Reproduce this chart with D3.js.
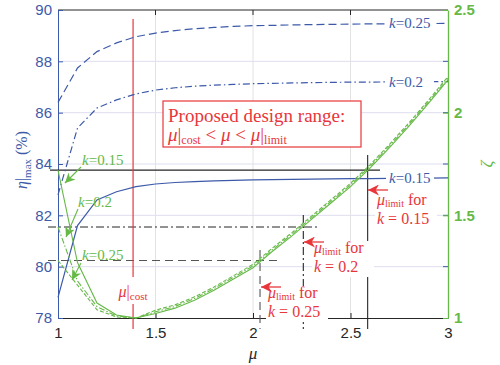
<!DOCTYPE html>
<html>
<head>
<meta charset="utf-8">
<script src="https://cdn.jsdelivr.net/npm/d3@7"></script>
<style>
  body { margin: 0; background: #fff; }
</style>
</head>
<body>
<svg id="chart" width="500" height="365"></svg>
<script>
// mu grid shared by the curves
const mu = [1, 1.1, 1.2, 1.3, 1.4, 1.5, 1.6, 1.7, 1.8, 1.9, 2, 2.1, 2.2, 2.3, 2.4, 2.5, 2.6, 2.7, 2.8, 2.9, 3];

// eta|max (%) curves, left axis
const etaK015 = [78.8, 81.6, 82.6, 82.92, 83.12, 83.22, 83.28, 83.31, 83.34, 83.36, 83.38, 83.39, 83.4, 83.41, 83.42, 83.43, 83.43, 83.44, 83.45, 83.45, 83.46];
const etaK020 = [82.8, 85.4, 86.18, 86.5, 86.73, 86.88, 86.97, 87.03, 87.07, 87.1, 87.13, 87.14, 87.16, 87.17, 87.18, 87.19, 87.19, 87.2, 87.2, 87.21, 87.21];
const etaK025 = [86.4, 87.74, 88.38, 88.72, 88.96, 89.1, 89.2, 89.27, 89.32, 89.36, 89.39, 89.4, 89.42, 89.43, 89.44, 89.45, 89.46, 89.46, 89.47, 89.47, 89.48];

// zeta curves, right axis
const zetaK015 = [1.72, 1.27, 1.073, 1.015, 1.0, 1.022, 1.048, 1.087, 1.135, 1.19, 1.245, 1.325, 1.4, 1.48, 1.56, 1.64, 1.73, 1.83, 1.935, 2.045, 2.16];
const zetaK020 = [1.443, 1.18, 1.055, 1.01, 1.0, 1.03, 1.056, 1.095, 1.143, 1.198, 1.253, 1.333, 1.408, 1.488, 1.568, 1.648, 1.738, 1.838, 1.943, 2.053, 2.168];
const zetaK025 = [1.28, 1.16, 1.04, 1.005, 1.0, 1.038, 1.064, 1.103, 1.151, 1.206, 1.261, 1.341, 1.416, 1.496, 1.576, 1.656, 1.746, 1.846, 1.951, 2.061, 2.176];

// design limits
const kLabels = ["0.15", "0.2", "0.25"];
const muLimit = [2.588, 2.258, 2.036];
const zetaLimit = [1.72, 1.443, 1.28];
const muCost = 1.385;

// ticks
const xTicks = [1, 1.5, 2, 2.5, 3];
const leftTicks = [78, 80, 82, 84, 86, 88, 90];
const rightTicks = [1, 1.5, 2, 2.5];

const blue = "#3d5aa9", green = "#66b947", red = "#e8363b";
const serif = "Liberation Serif";
const sans = "Liberation Sans";

const svg = d3.select("#chart");
const pl = 58, pr = 448, pt = 10, pb = 318;

const x = d3.scaleLinear().domain([1, 3]).range([pl, pr]);
const yL = d3.scaleLinear().domain([78, 90]).range([pb, pt]);
const yR = d3.scaleLinear().domain([1, 2.5]).range([pb, pt]);

// grid
svg.append("g").selectAll("line")
  .data(leftTicks.slice(1, -1)).enter().append("line")
  .attr("x1", pl).attr("x2", pr)
  .attr("y1", d => yL(d)).attr("y2", d => yL(d))
  .attr("stroke", "#dedef0").attr("stroke-width", 1);
svg.append("g").selectAll("line")
  .data(xTicks.slice(1, -1)).enter().append("line")
  .attr("x1", d => x(d)).attr("x2", d => x(d))
  .attr("y1", pt).attr("y2", pb)
  .attr("stroke", "#e2e2e2").attr("stroke-width", 1);

// top border with ticks
svg.append("line").attr("x1", pl).attr("x2", pr).attr("y1", pt).attr("y2", pt)
  .attr("stroke", "#262626");
svg.append("g").selectAll("line").data(xTicks.slice(1, -1)).enter().append("line")
  .attr("x1", d => x(d)).attr("x2", d => x(d)).attr("y1", pt).attr("y2", pt + 5)
  .attr("stroke", "#262626");

// x axis
const xAxis = svg.append("g")
  .attr("transform", `translate(0,${pb})`)
  .call(d3.axisBottom(x).tickValues(xTicks).tickFormat(d3.format("")).tickSize(-5).tickSizeOuter(0).tickPadding(9));
xAxis.attr("font-family", sans);
xAxis.select(".domain").attr("stroke", "#262626");
xAxis.selectAll(".tick line").attr("stroke", "#262626");
xAxis.selectAll(".tick text").attr("font-size", 15).attr("fill", "#262626");

// left axis
const lAxis = svg.append("g")
  .attr("transform", `translate(${pl},0)`)
  .call(d3.axisLeft(yL).tickValues(leftTicks).tickSize(-5).tickSizeOuter(0).tickPadding(6));
lAxis.attr("font-family", sans);
lAxis.select(".domain").attr("stroke", blue);
lAxis.selectAll(".tick line").attr("stroke", blue);
lAxis.selectAll(".tick text").attr("font-size", 15).attr("fill", blue);

// right axis
svg.append("g").selectAll("line").data(leftTicks.slice(1, -1)).enter().append("line")
  .attr("x1", pr - 5).attr("x2", pr).attr("y1", d => yL(d)).attr("y2", d => yL(d))
  .attr("stroke", blue);
const rAxis = svg.append("g")
  .attr("transform", `translate(${pr},0)`)
  .call(d3.axisRight(yR).tickValues(rightTicks).tickFormat(d3.format("")).tickSize(-5).tickSizeOuter(0).tickPadding(6));
rAxis.attr("font-family", sans);
rAxis.select(".domain").attr("stroke", green).attr("stroke-width", 1.3);
rAxis.selectAll(".tick line").attr("stroke", green);
rAxis.selectAll(".tick text").attr("font-size", 15).attr("fill", green).attr("font-weight", "bold");

// helper for serif text
function stext(xp, yp, size, color) {
  return svg.append("text").attr("x", xp).attr("y", yp)
    .style("font-family", serif).attr("font-size", size).attr("fill", color);
}

// axis titles
const yt = svg.append("text")
  .attr("transform", "translate(27,160) rotate(-90)")
  .style("font-family", serif).attr("text-anchor", "middle").attr("fill", blue).attr("font-size", 16);
yt.append("tspan").attr("font-style", "italic").text("η");
yt.append("tspan").text("|");
yt.append("tspan").attr("font-size", 11).attr("dy", 4).text("max");
yt.append("tspan").attr("dy", -4).text(" (%)");

stext(253, 359, 17, "#262626").attr("text-anchor", "middle").attr("font-style", "italic").text("μ");
svg.append("text").attr("transform", "translate(492,164) rotate(-90)")
  .style("font-family", serif).attr("text-anchor", "middle")
  .attr("font-style", "italic").attr("font-size", 17).attr("fill", green).text("ζ");

// black limit lines
const limStyles = [
  { dash: null, color: "#262626" },
  { dash: "8,3,2,3", color: "#262626" },
  { dash: "8,5", color: "#555" }
];
const hEnds = [380, 320, 280];
const vTops = [155, 215, 250];
muLimit.forEach((m, i) => {
  svg.append("line")
    .attr("x1", i === 0 ? 50 : 48).attr("x2", hEnds[i])
    .attr("y1", yR(zetaLimit[i])).attr("y2", yR(zetaLimit[i]))
    .attr("stroke", limStyles[i].color).attr("stroke-width", 1.1)
    .attr("stroke-dasharray", limStyles[i].dash);
  svg.append("line")
    .attr("x1", x(m)).attr("x2", x(m))
    .attr("y1", vTops[i]).attr("y2", pb + 11)
    .attr("stroke", limStyles[i].color).attr("stroke-width", 1.1)
    .attr("stroke-dasharray", limStyles[i].dash);
});

// red mu|cost line
svg.append("line").attr("x1", x(muCost)).attr("x2", x(muCost)).attr("y1", 19).attr("y2", 277)
  .attr("stroke", red).attr("stroke-width", 1.2);
svg.append("line").attr("x1", x(muCost)).attr("x2", x(muCost)).attr("y1", 304).attr("y2", 329)
  .attr("stroke", red).attr("stroke-width", 1.2);
const mc = stext(x(muCost), 297, 16, red).attr("text-anchor", "middle");
mc.append("tspan").attr("font-style", "italic").text("μ");
mc.append("tspan").text("|");
mc.append("tspan").attr("font-size", 11).attr("dy", 3).text("cost");

// curves
const lineL = d3.line().x((d, i) => x(mu[i])).y(d => yL(d));
const lineR = d3.line().x((d, i) => x(mu[i])).y(d => yR(d));

const blueSeries = [
  { data: etaK015, dash: null },
  { data: etaK020, dash: "7,3,1.5,3" },
  { data: etaK025, dash: "8,4" }
];
blueSeries.forEach(s => {
  svg.append("path").datum(s.data).attr("d", lineL)
    .attr("fill", "none").attr("stroke", blue).attr("stroke-width", 1.2)
    .attr("stroke-dasharray", s.dash);
});

const greenSeries = [
  { data: zetaK015, dash: null },
  { data: zetaK020, dash: "6,2,1.5,2" },
  { data: zetaK025, dash: "4,2" }
];
greenSeries.forEach(s => {
  svg.append("path").datum(s.data).attr("d", lineR)
    .attr("fill", "none").attr("stroke", green).attr("stroke-width", 1.1)
    .attr("stroke-dasharray", s.dash);
});

// blue k labels at right end, with white background
const blueLabelY = [etaK015[20], etaK020[20], etaK025[20]];
blueLabelY.forEach((v, i) => {
  const y = yL(v);
  svg.append("rect").attr("x", 386).attr("y", y - 8).attr("width", 48).attr("height", 16).attr("fill", "#fff");
  const t = stext(389, y + 5, 15, blue);
  t.append("tspan").attr("font-style", "italic").text("k");
  t.append("tspan").text("=" + kLabels[i]);
});

// arrow heads
const defs = svg.append("defs");
defs.append("marker").attr("id", "ga").attr("viewBox", "0 0 10 10").attr("refX", 10).attr("refY", 5)
  .attr("markerWidth", 10).attr("markerHeight", 10).attr("markerUnits", "userSpaceOnUse").attr("orient", "auto")
  .append("path").attr("d", "M0,0 L10,5 L0,10 L3,5 Z").attr("fill", green);
defs.append("marker").attr("id", "ra").attr("viewBox", "0 0 10 10").attr("refX", 10).attr("refY", 5)
  .attr("markerWidth", 13).attr("markerHeight", 11).attr("markerUnits", "userSpaceOnUse").attr("orient", "auto")
  .append("path").attr("d", "M0,0 L10,5 L0,10 L3,5 Z").attr("fill", red);

// green k labels with arrows
const greenLabels = [
  { tx: 82, ty: 165, from: [81, 167], to: [65, 183] },
  { tx: 78, ty: 207, from: [78, 209], to: [66, 237] },
  { tx: 82, ty: 260, from: [81, 263], to: [72, 280] }
];
greenLabels.forEach((g, i) => {
  const t = stext(g.tx, g.ty, 15, green);
  t.append("tspan").attr("font-style", "italic").text("k");
  t.append("tspan").text("=" + kLabels[i]);
  svg.append("line").attr("x1", g.from[0]).attr("y1", g.from[1]).attr("x2", g.to[0]).attr("y2", g.to[1])
    .attr("stroke", green).attr("stroke-width", 1.1).attr("marker-end", "url(#ga)");
});

// red mu_limit annotations
const redNotes = [
  { tip: [368, 190], tx: 377, ty: 205 },
  { tip: [304, 242], tx: 314, ty: 253 },
  { tip: [261, 287], tx: 268, ty: 298 }
];
redNotes.forEach((r, i) => {
  svg.append("rect").attr("x", r.tx - 2).attr("y", r.ty - 12).attr("width", 62).attr("height", 36).attr("fill", "#fff");
  svg.append("line").attr("x1", r.tip[0] + 20).attr("x2", r.tip[0]).attr("y1", r.tip[1]).attr("y2", r.tip[1])
    .attr("stroke", red).attr("stroke-width", 1.3).attr("marker-end", "url(#ra)");
  const t1 = stext(r.tx, r.ty, 16, red);
  t1.append("tspan").attr("font-style", "italic").text("μ");
  t1.append("tspan").attr("font-size", 10).attr("dy", 2).text("limit");
  t1.append("tspan").attr("dy", -2).text(" for");
  const t2 = stext(r.tx, r.ty + 19, 16, red);
  t2.append("tspan").attr("font-style", "italic").text("k");
  t2.append("tspan").text(" = " + kLabels[i]);
});

// proposed design range box
svg.append("rect").attr("x", 163).attr("y", 101).attr("width", 198).attr("height", 46)
  .attr("fill", "#fff").attr("stroke", red).attr("stroke-width", 1.2);
stext(168, 122, 19, red).text("Proposed design range:");
const l2 = stext(168, 141, 19, red);
l2.append("tspan").attr("font-style", "italic").text("μ");
l2.append("tspan").text("|");
l2.append("tspan").attr("font-size", 12).attr("dy", 3).text("cost");
l2.append("tspan").attr("dy", -3).text(" < ");
l2.append("tspan").attr("font-style", "italic").text("μ");
l2.append("tspan").text(" < ");
l2.append("tspan").attr("font-style", "italic").text("μ");
l2.append("tspan").text("|");
l2.append("tspan").attr("font-size", 12).attr("dy", 3).text("limit");
</script>
</body>
</html>
